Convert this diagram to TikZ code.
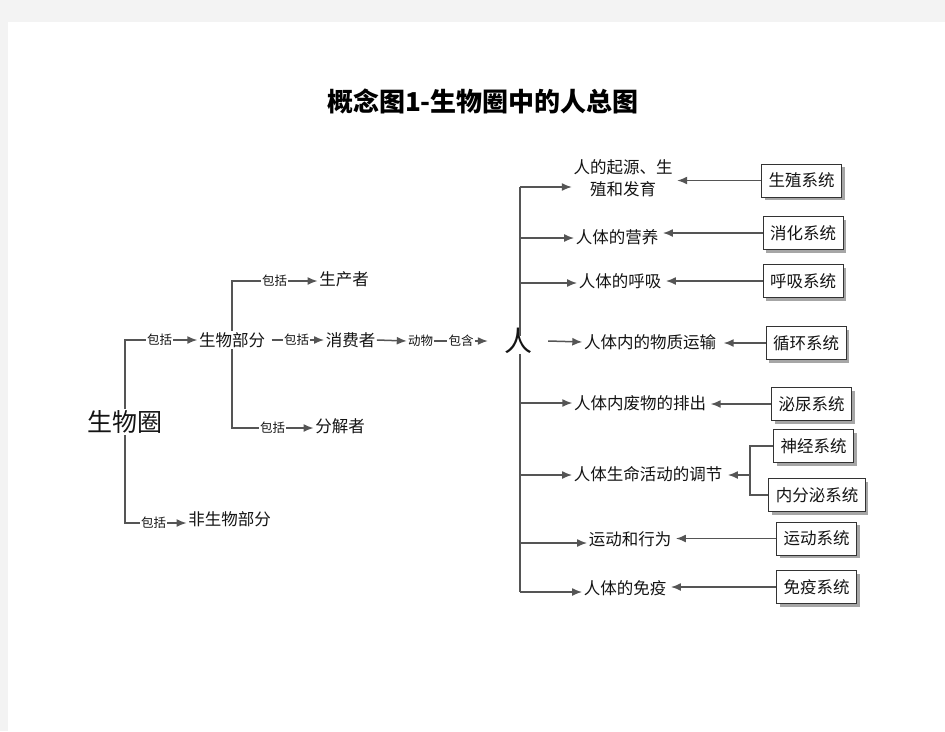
\documentclass[tikz,border=0pt]{standalone}
\usepackage{fontspec}
\setmainfont{Noto Sans CJK SC}
\usetikzlibrary{arrows.meta,shadows}
\definecolor{pagegray}{HTML}{F3F3F3}
\definecolor{linegray}{HTML}{555555}
\begin{document}
\begin{tikzpicture}[x=1pt,y=-1pt,
  txt/.style={inner sep=1.5pt, text=black!92, font=\fontsize{16.5}{22}\selectfont},
  lab/.style={inner sep=1pt, text=black!92, font=\fontsize{12.5}{14}\selectfont},
  ln/.style={draw=linegray, line width=1.5pt},
  arr/.style={ln, -{Latex[length=10pt,width=8pt]}},
  sys/.style={draw=black!80, line width=0.9pt, fill=white, minimum height=33pt,
    inner xsep=7pt, text=black!92, font=\fontsize{16.5}{20}\selectfont,
    drop shadow={shadow xshift=3pt,shadow yshift=-3pt,fill=black!35,opacity=1}}]
\fill[pagegray] (0,0) rectangle (945,731);
\fill[white] (8,22) rectangle (945,731);
\useasboundingbox (0,0) rectangle (945,731);

% title
\node[font=\fontsize{26}{28}\selectfont\bfseries] (title) at (483,101) {概念图1-生物圈中的人总图};

% left part
\node[txt,font=\fontsize{25}{28}\selectfont] (bio) at (125,422) {生物圈};
\node[lab] (l1) at (159.5,340) {包括};
\node[txt] (sw) at (232,340) {生物部分};
\node[lab] (l2) at (153.5,523) {包括};
\node[txt] (nsw) at (229.5,519) {非生物部分};
\draw[ln] (bio.north) |- (l1.west);
\draw[arr] (l1.east) -- (sw.west);
\draw[ln] (bio.south) |- (l2.west);
\draw[arr] (l2.east) -- (nsw.west |- l2.east);

\node[lab] (l3) at (274.5,281) {包括};
\node[txt] (scz) at (344,279) {生产者};
\draw[ln] (sw.north) |- (l3.west);
\draw[arr] (l3.east) -- (scz.west |- l3.east);

\node[lab] (l4) at (296.5,340) {包括};
\node[txt] (xfz) at (350.5,340) {消费者};
\draw[ln] ([xshift=5pt]sw.east) -- (l4.west);
\draw[arr] (l4.east) -- (xfz.west);
\node[lab] (dw) at (420.5,341) {动物};
\draw[arr] (xfz.east) -- (dw.west);
\node[lab] (bh) at (461,341) {包含};
\draw[ln] (dw.east) -- (bh.west);

\node[lab] (l5) at (272.5,428) {包括};
\node[txt] (fjz) at (340,426) {分解者};
\draw[ln] (sw.south) |- (l5.west);
\draw[arr] (l5.east) -- (fjz.west |- l5.east);

% human
\node[txt,font=\fontsize{28}{30}\selectfont,inner xsep=16pt,inner ysep=0pt] (ren) at (518,341) {人};
\draw[arr] (bh.east) -- (ren.west);

\coordinate (tk1) at (520,187);
\coordinate (tk2) at (520,238);
\coordinate (tk3) at (520,283);
\coordinate (tk5) at (520,403);
\coordinate (tk6) at (520,475);
\coordinate (tk7) at (520,543);
\coordinate (tk8) at (520,592);
\draw[ln] (tk1) -- ([yshift=-8pt]ren.north -| tk1);
\draw[ln] (ren.south -| tk1) -- (tk8);

\node[txt,align=center] (t1) at (623,178) {人的起源、生\\殖和发育};
\node[txt] (t2) at (617,237) {人体的营养};
\node[txt] (t3) at (620,281) {人体的呼吸};
\node[txt] (t4) at (650,342) {人体内的物质运输};
\node[txt] (t5) at (640,403) {人体内废物的排出};
\node[txt] (t6) at (648,474) {人体生命活动的调节};
\node[txt] (t7) at (630,539) {运动和行为};
\node[txt] (t8) at (625,588) {人体的免疫};

\draw[arr] (tk1) -- (t1.west |- tk1);
\draw[arr] (tk2) -- (t2.west |- tk2);
\draw[arr] (tk3) -- (t3.west |- tk3);
\draw[arr] (ren.east) -- (t4.west);
\draw[arr] (tk5) -- (t5.west |- tk5);
\draw[arr] (tk6) -- (t6.west |- tk6);
\draw[arr] (tk7) -- (t7.west |- tk7);
\draw[arr] (tk8) -- (t8.west |- tk8);

% systems
\node[sys] (s1) at (801.5,180.5) {生殖系统};
\node[sys] (s2) at (803,233) {消化系统};
\node[sys] (s3) at (803,281) {呼吸系统};
\node[sys] (s4) at (806,343) {循环系统};
\node[sys] (s5) at (811.5,404) {泌尿系统};
\node[sys] (s6) at (813.5,446) {神经系统};
\node[sys] (s7) at (817,495) {内分泌系统};
\node[sys] (s8) at (816.5,538.5) {运动系统};
\node[sys] (s9) at (816.5,587) {免疫系统};

\draw[arr] (s1.west) -- ([xshift=3pt]t1.east |- s1.west);
\draw[arr] (s2.west) -- ([xshift=3pt]t2.east |- s2.west);
\draw[arr] (s3.west) -- ([xshift=3pt]t3.east |- s3.west);
\draw[arr] (s4.west) -- ([xshift=6pt]t4.east |- s4.west);
\draw[arr] (s5.west) -- ([xshift=3pt]t5.east |- s5.west);
\coordinate (bx) at (750,475);
\draw[ln] (s6.west) -| (bx) |- (s7.west);
\draw[arr] (bx) -- ([xshift=4pt]t6.east |- bx);
\draw[arr] (s8.west) -- ([xshift=3pt]t7.east |- s8.west);
\draw[arr] (s9.west) -- ([xshift=3pt]t8.east |- s9.west);
\end{tikzpicture}
\end{document}
